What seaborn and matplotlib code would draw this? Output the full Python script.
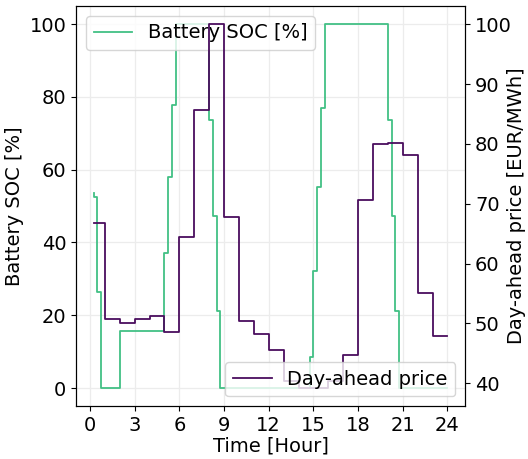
import numpy as np
import pandas as pd
import matplotlib
matplotlib.use("Agg")
import matplotlib.pyplot as plt
import seaborn as sns

# Quarter-hour time stamps (hours), 0.25 .. 24.0
time_h = np.arange(1, 97) / 4.0

# Battery state of charge [%], one value per quarter hour
soc = [
    53.7, 52.6, 26.3, 0.0, 0.0, 0.0, 0.0, 0.0,          # 0.25-2.0
    15.7, 15.7, 15.7, 15.7, 15.7, 15.7, 15.7, 15.7,     # 2.25-4.0
    15.7, 15.7, 15.7, 15.7, 37.0, 57.9, 77.7, 100.0,    # 4.25-6.0
    100.0, 100.0, 100.0, 100.0, 100.0, 100.0, 100.0, 100.0,  # 6.25-8.0
    73.6, 47.3, 21.2, 0.0, 0.0, 0.0, 0.0, 0.0,          # 8.25-10.0
    0.0, 0.0, 0.0, 0.0, 0.0, 0.0, 0.0, 0.0,             # 10.25-12.0
    0.0, 0.0, 0.0, 0.0, 0.0, 0.0, 0.0, 0.0,             # 12.25-14.0
    0.0, 0.0, 0.0, 8.6, 32.1, 55.3, 77.0, 100.0,        # 14.25-16.0
    100.0, 100.0, 100.0, 100.0, 100.0, 100.0, 100.0, 100.0,  # 16.25-18.0
    100.0, 100.0, 100.0, 100.0, 100.0, 100.0, 100.0, 100.0,  # 18.25-20.0
    73.6, 47.3, 21.2, 0.0, 0.0, 0.0, 0.0, 0.0,          # 20.25-22.0
    0.0, 0.0, 0.0, 0.0, 0.0, 0.0, 0.0, 0.0,             # 22.25-24.0
]

# Hourly day-ahead price [EUR/MWh], hours 1..24
price_hourly = [66.7, 50.8, 50.0, 50.7, 51.3, 48.6, 64.5, 85.7,
                100.0, 67.8, 50.4, 48.2, 45.6, 40.3, 39.2, 39.2,
                40.3, 44.8, 70.7, 80.0, 80.1, 78.1, 55.0, 47.9]

x_ticks = [0, 3, 6, 9, 12, 15, 18, 21, 24]
soc_ticks = [0, 20, 40, 60, 80, 100]
price_ticks = [40, 50, 60, 70, 80, 90, 100]

df = pd.DataFrame({
    "time": time_h,
    "soc": soc,
    "price": np.repeat(price_hourly, 4),
})

plt.rcParams["font.size"] = 14
plt.rcParams["font.family"] = ["DejaVu Sans"]

green = "#42c085"
purple = "#4a0d5e"

fig, ax = plt.subplots(figsize=(5.28, 4.59), dpi=100)
fig.subplots_adjust(left=0.144, right=0.881, top=0.987, bottom=0.115)

sns.lineplot(data=df, x="time", y="soc", ax=ax, color=green,
             drawstyle="steps-pre", linewidth=1.3, label="Battery SOC [%]",
             legend=False)
ax2 = ax.twinx()
sns.lineplot(data=df, x="time", y="price", ax=ax2, color=purple,
             drawstyle="steps-pre", linewidth=1.3, label="Day-ahead price",
             legend=False)

ax.set_xticks(x_ticks)
ax.set_yticks(soc_ticks)
ax2.set_yticks(price_ticks)
ax.set_xlabel("Time [Hour]", labelpad=1)
ax.set_ylabel("Battery SOC [%]")
ax2.set_ylabel("Day-ahead price [EUR/MWh]")
ax2.yaxis.set_label_coords(1.108, 0.5)

ax.grid(True, color="#ececec", linewidth=0.9)
ax2.grid(False)
ax.set_axisbelow(True)

ax.legend(loc="upper left", fontsize=14)
ax2.legend(loc="lower right", fontsize=14)

fig.savefig("out.png", dpi=100)
